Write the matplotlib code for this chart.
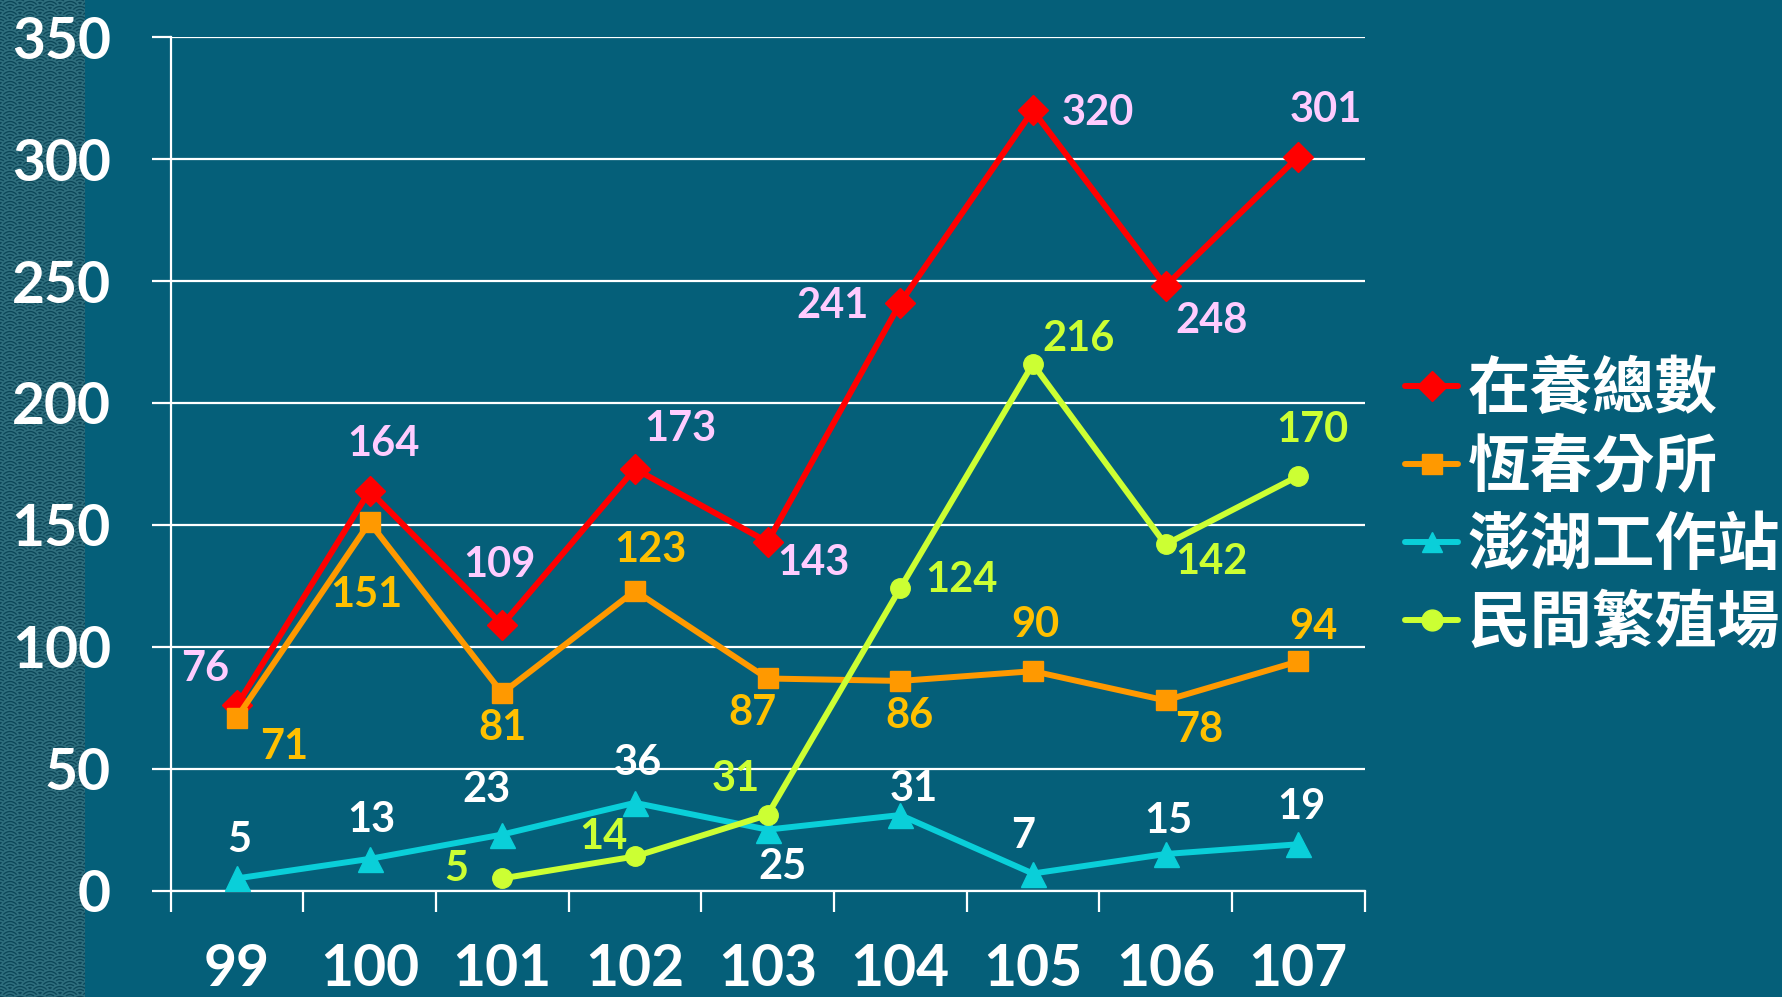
import numpy as np
import matplotlib
matplotlib.use('Agg')
import matplotlib.pyplot as plt
from matplotlib.patches import Circle, Rectangle

# Data: years (ROC calendar) and counts per site
years = ['99', '100', '101', '102', '103', '104', '105', '106', '107']
total = [76, 164, 109, 173, 143, 241, 320, 248, 301]
hengchun = [71, 151, 81, 123, 87, 86, 90, 78, 94]
penghu = [5, 13, 23, 36, 25, 31, 7, 15, 19]
private_farm = [np.nan, np.nan, 5, 14, 31, 124, 216, 142, 170]

series_names = ['在養總數', '恆春分所', '澎湖工作站', '民間繁殖場']

# label offsets (points) for each data label
total_off = [(-23, 26), (10, 34), (-2, 43), (33, 29), (33, -15), (-49, -2), (47, -2), (33, -25), (20, 34)]
hengchun_off = [(34, -21), (-2, -52), (0, -25), (11, 29), (-11, -25), (7, -25), (2, 33), (24, -21), (11, 25)]
penghu_off = [(2, 28), (1, 28), (-11, 32), (2, 29), (11, -27), (10, 19), (-7, 27), (2, 24), (2, 27)]
farm_off = [None, None, (-33, 7), (-23, 14), (-23, 26), (44, 6), (33, 18), (33, -13), (10, 33)]

BG = '#055f79'
W, H = 1783, 997
fig = plt.figure(figsize=(W / 100, H / 100), dpi=100, facecolor=BG)

# decorative wave pattern strip on the left
strip_w = 85
bg_ax = fig.add_axes([0, 0, strip_w / W, 1])
bg_ax.set_xlim(0, strip_w)
bg_ax.set_ylim(0, H)
bg_ax.axis('off')
strip_col = '#0c4658'
wave_col = '#2f6f7e'
bg_ax.add_patch(Rectangle((0, 0), strip_w, H, facecolor=strip_col, edgecolor='none'))
r = 10
row = 0
y = H + r
while y > -2 * r:
    shift = r if row % 2 else 0
    x = -r + shift
    while x < strip_w + 2 * r:
        for k in (1.0, 0.7, 0.4):
            c = Circle((x, y), r * k, facecolor=strip_col, edgecolor=wave_col, lw=1.2)
            c.set_clip_path(bg_ax.patch)
            bg_ax.add_patch(c)
        x += 2 * r
    y -= r / 2
    row += 1

# main chart
ax = fig.add_axes([170.6 / W, 1 - 890.6 / H, (1364.5 - 170.6) / W, (890.6 - 37.3) / H])
ax.set_facecolor(BG)
x = np.arange(len(years))

label_font = dict(family='Lato', weight='bold', size=30)
styles = [
    (total, '#ff0000', 'D', 15, '#ffccff', total_off),
    (hengchun, '#ff9900', 's', 14, '#ffc000', hengchun_off),
    (penghu, '#0acfd9', '^', 18, '#ffffff', penghu_off),
    (private_farm, '#ccff33', 'o', 14, '#ccff33', farm_off),
]
for (vals, col, mk, ms, lcol, offs), name in zip(styles, series_names):
    ax.plot(x, vals, color=col, lw=4.3, marker=mk, ms=ms, mec=col, mfc=col,
            label=name, solid_capstyle='round', zorder=3)
    for xi, v, off in zip(x, vals, offs):
        if off is None or np.isnan(v):
            continue
        ax.annotate(f'{int(v)}', (xi, v), xytext=off, textcoords='offset points',
                    ha='center', va='center', color=lcol, zorder=4, **label_font)

ax.set_xlim(-0.5, len(years) - 0.5)
ax.set_ylim(0, 350)
ax.set_yticks(np.arange(0, 351, 50))
ax.set_xticks(x)
ax.set_xticklabels(years)
ax.set_xticks(np.arange(-0.5, len(years), 1), minor=True)
ax.grid(axis='y', color='white', lw=1.6, zorder=1)
for s in ('top', 'right'):
    ax.spines[s].set_visible(False)
for s in ('left', 'bottom'):
    ax.spines[s].set_color('white')
    ax.spines[s].set_linewidth(1.6)
ax.tick_params(axis='y', colors='white', length=14, width=1.6, pad=29,
               labelsize=41)
ax.tick_params(axis='x', which='major', length=0, pad=38, colors='white', labelsize=41)
ax.tick_params(axis='x', which='minor', length=15, width=1.6, color='white')
for lab in ax.get_xticklabels() + ax.get_yticklabels():
    lab.set_fontfamily('Lato')
    lab.set_fontweight('bold')
    lab.set_color('white')

leg = fig.legend(loc='center left', bbox_to_anchor=(1405 / W, 1 - 506 / H),
                 frameon=False, handlelength=0.85, handletextpad=0.15,
                 labelspacing=0.24, borderpad=0, borderaxespad=0,
                 prop={'family': ['Noto Sans CJK TC', 'DejaVu Sans'], 'size': 45,
                       'weight': 'bold'})
for t in leg.get_texts():
    t.set_color('white')
for h in leg.legend_handles:
    h.set_markersize(15)

fig.savefig('out.png', dpi=100, facecolor=BG)
